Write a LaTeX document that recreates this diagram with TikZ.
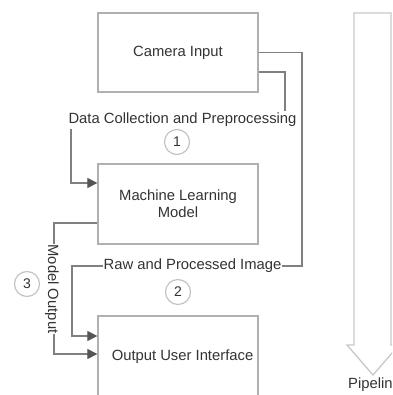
\documentclass[tikz,border=0pt]{standalone}
\usepackage{fontspec}
\setmainfont{Liberation Sans}
\usetikzlibrary{arrows.meta}
\definecolor{boxline}{HTML}{B0B0B0}
\definecolor{connline}{HTML}{808080}
\definecolor{tipfill}{HTML}{555555}
\definecolor{txt}{HTML}{333333}
\definecolor{circline}{HTML}{C4C4C4}
\definecolor{pipeline}{HTML}{C8C8C8}
\tikzset{
  blockbox/.style={draw=boxline, line width=1.3pt, fill=white, minimum width=160pt, inner sep=0pt, text=txt, align=center, font=\fontsize{14.8}{17}\selectfont},
  conn/.style={draw=connline, line width=1.2pt, -{Triangle[length=10pt,width=10pt,fill=tipfill,color=tipfill]}},
  elabel/.style={fill=white, text=txt, inner xsep=1pt, inner ysep=2.5pt, font=\fontsize{14.8}{17}\selectfont},
  stepcircle/.style={circle, draw=circline, line width=1.2pt, minimum size=25pt, inner sep=0pt, text=txt, font=\fontsize{14}{16}\selectfont},
}
\begin{document}
\begin{tikzpicture}[x=1pt, y=-1pt]
\clip (0,0) rectangle (392,395);
\fill[white] (0,0) rectangle (392,395);

% boxes
\node[blockbox, minimum height=79pt] (cam) at (178,52.5) {Camera Input};
\node[blockbox, minimum height=80pt] (ml) at (178,204) {Machine Learning\\Model};
\node[blockbox, minimum height=81pt] (ui) at (178,356.5) {\hspace*{9pt}Output User Interface};

% connectors
\coordinate (c1a) at (285,72);
\coordinate (c1b) at (71,120);
\draw[conn] ([yshift=-19.5pt]cam.east) -- (c1a) -- (c1a |- c1b) -- (c1b) -- (c1b |- 0,183) -- ([yshift=21pt]ml.west);
\coordinate (c2a) at (302,52.5);
\coordinate (c2b) at (72,266);
\draw[conn] (cam.east) -- (c2a) -- (c2a |- c2b) -- (c2b) -- (c2b |- 0,336) -- ([yshift=20.5pt]ui.west);
\coordinate (c3a) at (54,223);
\draw[conn] ([yshift=-19pt]ml.west) -- (c3a) -- (c3a |- 0,354) -- ([yshift=2.5pt]ui.west);

% edge labels
\node[elabel] (l1) at (182.5,120) {Data Collection and Preprocessing};
\node[elabel] (l2) at (192.5,266) {Raw and Processed Image};
\node[elabel, rotate=-90, inner xsep=0.5pt, inner ysep=1pt] (l3) at (52,289) {Model Output};

% step circles
\node[stepcircle] (s1) at (177,142) {1};
\node[stepcircle] (s2) at (178,292) {2};
\node[stepcircle] (s3) at (27,284) {3};

% pipeline arrow
\draw[draw=pipeline, line width=1.3pt, fill=white, line join=miter]
  (354,13) -- (391,13) -- (391,345) -- (399,345) -- (373,375) -- (347,345) -- (354,345) -- cycle;
\node[text=txt, font=\fontsize{14.8}{17}\selectfont, inner sep=0pt] (pl) at (374.5,385) {Pipeline};
\end{tikzpicture}
\end{document}
